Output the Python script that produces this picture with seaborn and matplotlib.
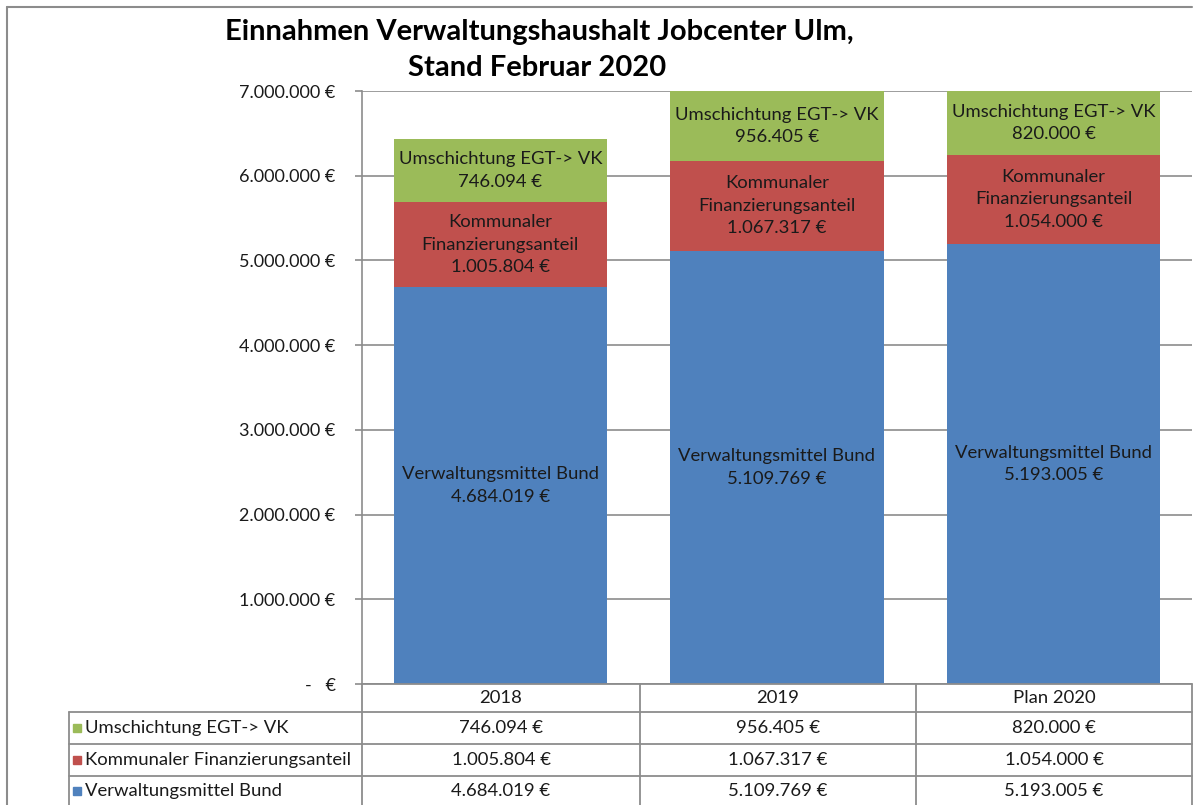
import numpy as np
import pandas as pd
import matplotlib
matplotlib.use("Agg")
import matplotlib.pyplot as plt
import seaborn as sns

# Daten
kategorien = ["2018", "2019", "Plan 2020"]
bund = [4684019, 5109769, 5193005]
kommunal = [1005804, 1067317, 1054000]
umschichtung = [746094, 956405, 820000]

serien = ["Umschichtung EGT-> VK", "Kommunaler Finanzierungsanteil", "Verwaltungsmittel Bund"]
werte = [umschichtung, kommunal, bund]
farben = ["#9BBB59", "#C0504D", "#4F81BD"]
balken_texte = ["Umschichtung EGT-> VK", "Kommunaler\nFinanzierungsanteil", "Verwaltungsmittel Bund"]
y_max = 7000000
y_ticks = np.arange(0, 7000001, 1000000)

sns.set_theme(style="white")
plt.rcParams["font.family"] = ["Lato", "DejaVu Sans"]

fs = 13.3
textfarbe = "#1a1a1a"


def euro(v):
    if v == 0:
        return "-   €"
    return f"{v:,.0f}".replace(",", ".") + " €"


df = pd.DataFrame({"Jahr": kategorien, "bund": bund, "kommunal": kommunal, "umschichtung": umschichtung})
df["unten"] = df["bund"]
df["mitte"] = df["bund"] + df["kommunal"]
df["oben"] = df["mitte"] + df["umschichtung"]

W, H = 1197, 805
fig = plt.figure(figsize=(W / 100, H / 100), dpi=100)

# Pixelgrenzen des Diagrammbereichs
px_l, px_r, px_t, px_b = 362, 1192, 91, 684
ax = fig.add_axes([px_l / W, 1 - px_b / H, (px_r - px_l) / W, (px_b - px_t) / H])

gitter = "#8C8C8C"
for t in y_ticks:
    ax.axhline(t, color=gitter, lw=1.2, zorder=0)

# gestapelte Balken durch Überlagerung der kumulierten Summen
for spalte, farbe in zip(["oben", "mitte", "unten"], farben):
    sns.barplot(data=df, x="Jahr", y=spalte, color=farbe, width=0.77, saturation=1,
                ax=ax, zorder=2, linewidth=0)

ax.set_ylim(0, y_max)
ax.set_xlim(-0.5, 2.5)
ax.set_yticks(y_ticks)
ax.set_yticklabels([euro(t) for t in y_ticks], fontsize=13)
ax.set_xticks([])
ax.set_xlabel("")
ax.set_ylabel("")
for s in ["top", "right", "bottom"]:
    ax.spines[s].set_visible(False)
ax.spines["left"].set_color(gitter)
ax.spines["left"].set_linewidth(1.2)
ax.tick_params(axis="y", length=5, color=gitter, width=1.2, left=True, pad=14, labelcolor=textfarbe)

# Beschriftungen in den Segmenten
for i in range(len(kategorien)):
    segmente = [(df["mitte"][i], df["oben"][i], umschichtung[i], balken_texte[0]),
                (df["unten"][i], df["mitte"][i], kommunal[i], balken_texte[1]),
                (0, df["unten"][i], bund[i], balken_texte[2])]
    for lo, hi, v, txt in segmente:
        yc = (lo + min(hi, y_max)) / 2
        ax.text(i, yc, txt + "\n" + euro(v), ha="center", va="center",
                fontsize=fs, color=textfarbe, linespacing=1.5, zorder=3)

# Titel und Rahmen, Datentabelle in Pixelkoordinaten
ov = fig.add_axes([0, 0, 1, 1], facecolor="none")
ov.set_xlim(0, W)
ov.set_ylim(H, 0)
ov.axis("off")

rahmen = "#8C8C8C"
ov.plot([7, 7], [7, H], color=rahmen, lw=1.5)
ov.plot([7, 1192], [7, 7], color=rahmen, lw=1.5)

ov.text(539, 32, "Einnahmen Verwaltungshaushalt Jobcenter Ulm,", ha="center", va="center",
        fontsize=21, fontweight="bold", color="black")
ov.text(537, 68, "Stand Februar 2020", ha="center", va="center",
        fontsize=21, fontweight="bold", color="black")

spalten_x = [362, 640, 916, 1192]
zeilen_y = [684, 712, 744, 776, 806]
tab_l = 69
lw_tab = 1.3

# horizontale Linien
ov.plot([362, 1192], [684, 684], color=rahmen, lw=lw_tab)
for y in zeilen_y[1:-1]:
    ov.plot([tab_l, 1192], [y, y], color=rahmen, lw=lw_tab)
# vertikale Linien
for x in spalten_x:
    ov.plot([x, x], [684, H], color=rahmen, lw=lw_tab)
ov.plot([tab_l, tab_l], [712, H], color=rahmen, lw=lw_tab)

for j, kat in enumerate(kategorien):
    xc = (spalten_x[j] + spalten_x[j + 1]) / 2
    ov.text(xc, 698, kat, ha="center", va="center", fontsize=fs, color=textfarbe)

for r, (name, vals, farbe) in enumerate(zip(serien, werte, farben)):
    yc = (zeilen_y[r + 1] + zeilen_y[r + 2]) / 2
    ov.add_patch(plt.Rectangle((73, yc - 4), 8, 8, color=farbe))
    ov.text(85, yc, name, ha="left", va="center", fontsize=fs, color=textfarbe)
    for j, v in enumerate(vals):
        xc = (spalten_x[j] + spalten_x[j + 1]) / 2
        ov.text(xc, yc, euro(v), ha="center", va="center", fontsize=fs, color=textfarbe)

fig.savefig("out.png", dpi=100)
